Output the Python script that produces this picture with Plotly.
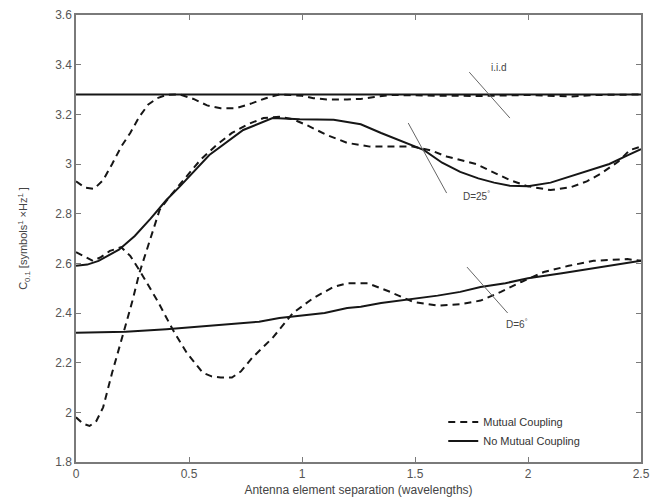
import plotly.graph_objects as go

# ---------------- data ----------------
iid_x = [0, 2.5]
iid_y = [3.28, 3.28]

iid_mc_x = [0, 0.04, 0.08, 0.12, 0.16, 0.2, 0.24, 0.28, 0.32, 0.36, 0.4, 0.46, 0.52, 0.58,
            0.64, 0.71, 0.78, 0.84, 0.9, 1.0, 1.05, 1.11, 1.2, 1.26, 1.32, 1.4, 1.6, 1.8,
            2.0, 2.19, 2.3, 2.5]
iid_mc_y = [2.93, 2.905, 2.9, 2.935, 3.0, 3.07, 3.125, 3.19, 3.24, 3.265, 3.278, 3.28, 3.262,
            3.236, 3.225, 3.225, 3.245, 3.265, 3.28, 3.275, 3.265, 3.26, 3.26, 3.262, 3.27,
            3.278, 3.275, 3.274, 3.278, 3.272, 3.278, 3.28]

d25_x = [0, 0.05, 0.1, 0.19, 0.26, 0.33, 0.4, 0.46, 0.59, 0.74, 0.87, 0.99, 1.14, 1.26,
         1.35, 1.45, 1.54, 1.62, 1.7, 1.78, 1.85, 1.92, 2.0, 2.1, 2.19, 2.28, 2.36, 2.44, 2.5]
d25_y = [2.59, 2.595, 2.61, 2.655, 2.71, 2.78, 2.855, 2.91, 3.036, 3.137, 3.185, 3.18, 3.178,
         3.16, 3.125, 3.09, 3.056, 3.005, 2.968, 2.942, 2.925, 2.912, 2.91, 2.925, 2.95,
         2.975, 3.0, 3.035, 3.06]

d25_mc_x = [0, 0.03, 0.06, 0.09, 0.12, 0.16, 0.21, 0.25, 0.28, 0.33, 0.37, 0.42, 0.48, 0.55,
            0.62, 0.69, 0.76, 0.83, 0.9, 0.96, 1.02, 1.11, 1.2, 1.3, 1.4, 1.49, 1.57, 1.64,
            1.77, 1.85, 1.92, 2.0, 2.1, 2.19, 2.26, 2.32, 2.4, 2.45, 2.5]
d25_mc_y = [1.98, 1.955, 1.945, 1.965, 2.02, 2.16, 2.32, 2.45, 2.56, 2.7, 2.815, 2.875, 2.94,
            3.016, 3.075, 3.125, 3.16, 3.185, 3.19, 3.18, 3.157, 3.117, 3.085, 3.07, 3.07,
            3.07, 3.055, 3.03, 3.0, 2.965, 2.935, 2.91, 2.895, 2.907, 2.93, 2.96, 3.01,
            3.056, 3.07]

d6_x = [0, 0.22, 0.4, 0.55, 0.7, 0.81, 0.9, 0.99, 1.1, 1.2, 1.26, 1.35, 1.49, 1.6, 1.7,
        1.79, 1.9, 2.0, 2.15, 2.29, 2.4, 2.5]
d6_y = [2.32, 2.325, 2.335, 2.345, 2.355, 2.365, 2.38, 2.39, 2.4, 2.42, 2.425, 2.44, 2.456,
        2.47, 2.485, 2.505, 2.52, 2.54, 2.56, 2.58, 2.595, 2.61]

d6_mc_x = [0, 0.04, 0.075, 0.11, 0.15, 0.2, 0.24, 0.28, 0.32, 0.36, 0.43, 0.49, 0.56, 0.6,
           0.64, 0.69, 0.73, 0.78, 0.87, 0.96, 1.05, 1.14, 1.2, 1.29, 1.39, 1.49, 1.6, 1.7,
           1.79, 1.88, 1.97, 2.07, 2.18, 2.29, 2.44, 2.5]
d6_mc_y = [2.645, 2.625, 2.61, 2.625, 2.65, 2.665, 2.63, 2.573, 2.51, 2.45, 2.33, 2.24, 2.16,
           2.145, 2.14, 2.14, 2.165, 2.22, 2.3, 2.4, 2.46, 2.505, 2.52, 2.52, 2.485, 2.445,
           2.43, 2.435, 2.45, 2.485, 2.525, 2.565, 2.59, 2.61, 2.617, 2.61]

# annotation labels: text, label position, pointer line (x0, y0, x1, y1)
label_texts = ["i.i.d", "D=25<sup>°</sup>", "D=6<sup>°</sup>"]
label_pos = [(1.87, 3.39), (1.77, 2.87), (1.95, 2.355)]
pointer_lines = [(1.74, 3.37, 1.92, 3.185), (1.47, 3.165, 1.64, 2.883), (1.73, 2.585, 1.91, 2.40)]

x_ticks = [0, 0.5, 1, 1.5, 2, 2.5]
y_ticks = [1.8, 2, 2.2, 2.4, 2.6, 2.8, 3, 3.2, 3.4, 3.6]

# ---------------- figure ----------------
LINE = "#161616"
DASH = "7px,5px"
FONT = "Liberation Sans, Arial"
fig = go.Figure()

def add(x, y, dashed, name=None, show=False):
    fig.add_trace(go.Scatter(
        x=x, y=y, mode="lines", name=name, showlegend=show,
        line=dict(color=LINE, width=2, dash=DASH if dashed else "solid"),
        hoverinfo="skip"))

add(iid_mc_x, iid_mc_y, True, "Mutual Coupling", True)
add(iid_x, iid_y, False, "No Mutual Coupling", True)
add(d25_mc_x, d25_mc_y, True)
add(d25_x, d25_y, False)
add(d6_mc_x, d6_mc_y, True)
add(d6_x, d6_y, False)

for (x0, y0, x1, y1) in pointer_lines:
    fig.add_shape(type="line", x0=x0, y0=y0, x1=x1, y1=y1, xref="x", yref="y",
                  line=dict(color="#666666", width=1))

for t, (lx, ly) in zip(label_texts, label_pos):
    fig.add_annotation(x=lx, y=ly, text=t, showarrow=False, xref="x", yref="y",
                       font=dict(family=FONT, size=10, color="#444444"))

axis_common = dict(
    showgrid=False, zeroline=False, showline=True, linecolor="#7a7a7a", linewidth=1.5,
    mirror="ticks", ticks="inside", ticklen=5, tickcolor="#7a7a7a", tickwidth=1,
    tickfont=dict(family=FONT, size=12, color="#555555"), automargin=False,
    ticklabeloverflow="allow",
)

fig.update_xaxes(range=[0, 2.5], tickvals=x_ticks, ticktext=[f"{v:g}" for v in x_ticks],
                 title=dict(text="Antenna element separation (wavelengths)", standoff=5,
                            font=dict(family=FONT, size=12, color="#444444")),
                 **axis_common)
fig.update_yaxes(range=[1.8, 3.6], tickvals=y_ticks, ticktext=[f"{v:g}" for v in y_ticks],
                 title=dict(text="C<sub>0.1</sub> [symbols<sup>1</sup> ×Hz<sup>1</sup> ]",
                            standoff=25,
                            font=dict(family=FONT, size=11, color="#444444")),
                 **axis_common)

fig.update_layout(
    width=651, height=499,
    margin=dict(l=76, r=10, t=15, b=37),
    plot_bgcolor="white", paper_bgcolor="white",
    legend=dict(x=0.65, y=0.122, xanchor="left", yanchor="top",
                bgcolor="rgba(255,255,255,1)", borderwidth=0,
                font=dict(family=FONT, size=11, color="#333333"),
                tracegroupgap=0, itemwidth=30),
)

# remove the page's default body margin so the figure fills the window exactly
fig.write_html("out.html", config={"displayModeBar": False},
               post_script="document.body.style.margin='0';document.body.style.overflow='hidden';")
